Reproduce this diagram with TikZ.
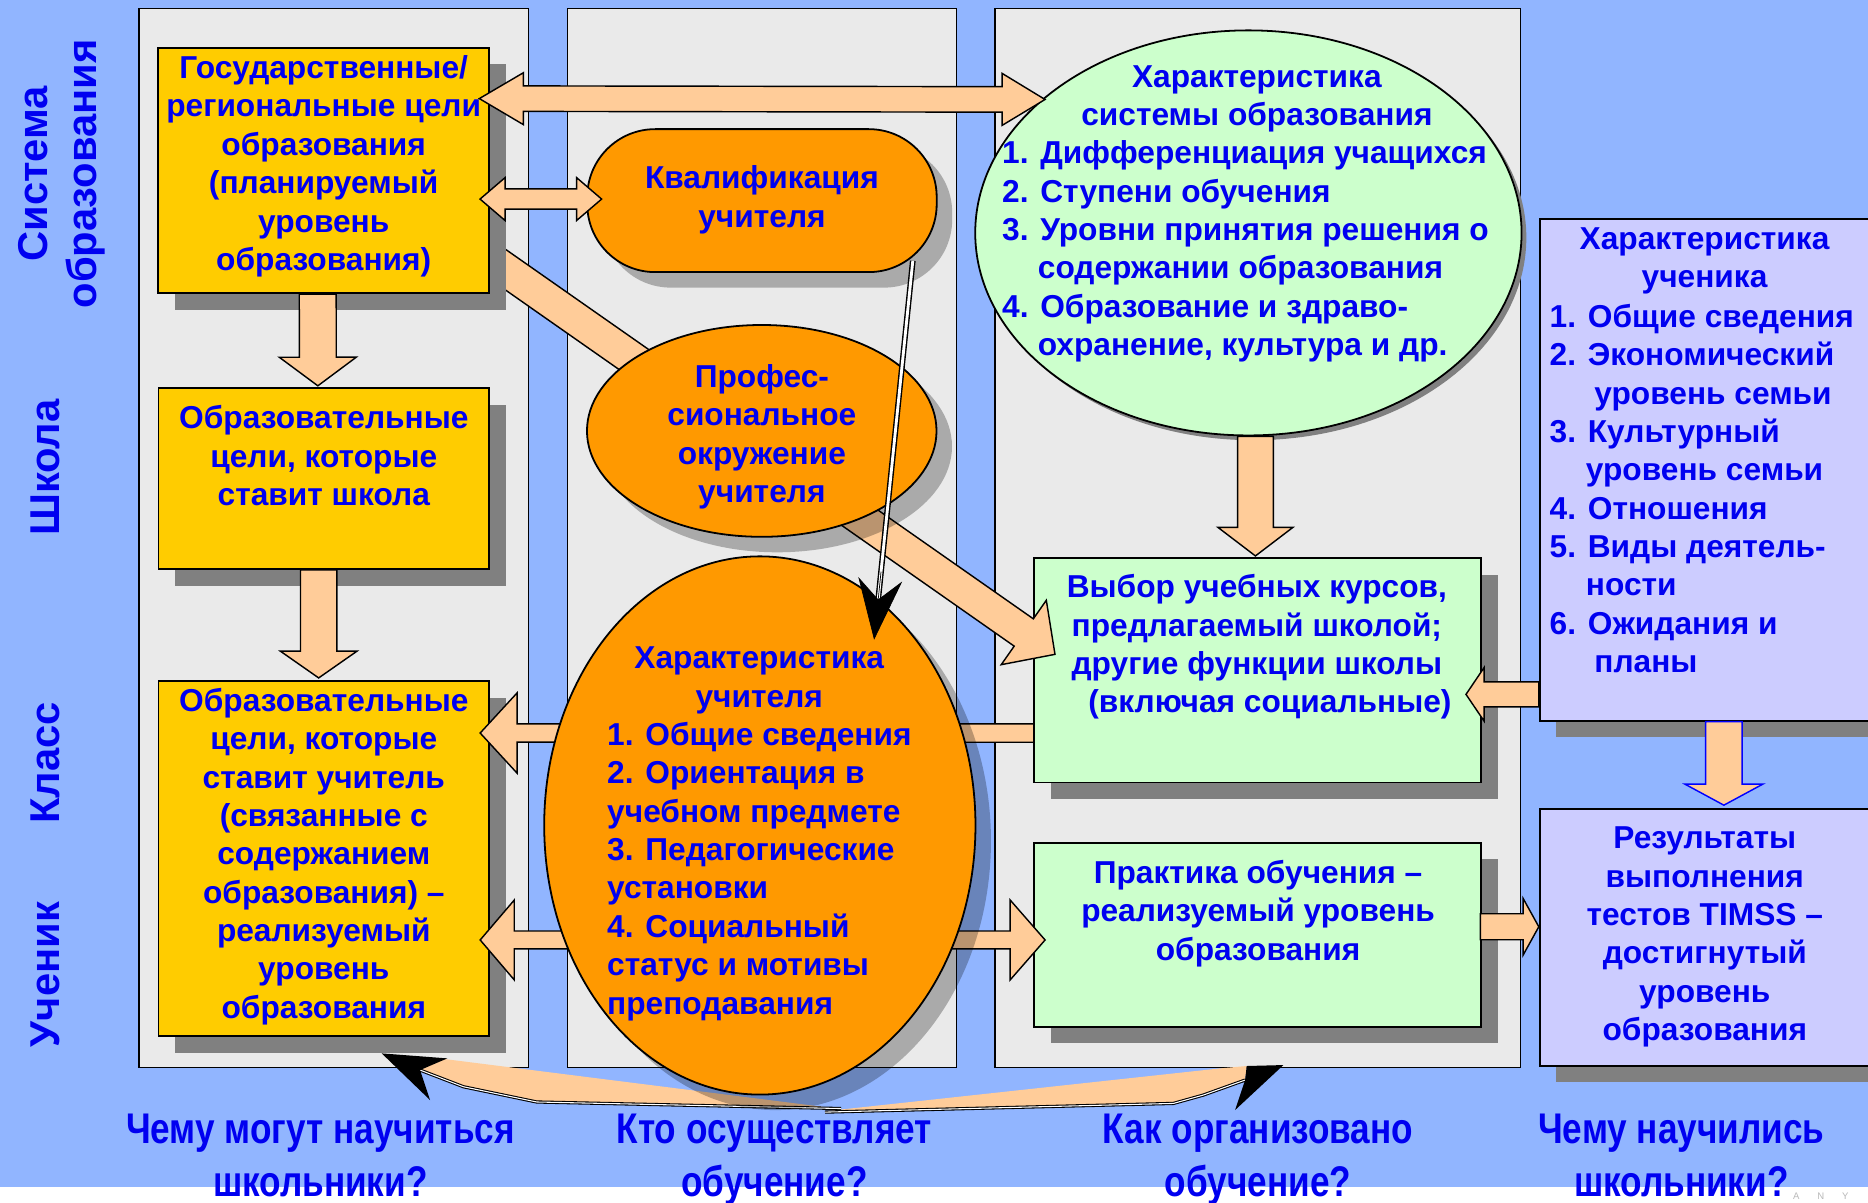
\documentclass[tikz,border=0pt]{standalone}
\usepackage{fontspec}
\setmainfont{Liberation Sans}
\newfontfamily\narrowfont[FakeStretch=0.82]{Liberation Sans}
\usetikzlibrary{calc,shapes.geometric,shadows,arrows.meta}
\pgfdeclarelayer{bgl}
\pgfdeclarelayer{curvel}
\pgfdeclarelayer{lowbox}
\pgfdeclarelayer{harr}
\pgfdeclarelayer{midbox}
\pgfdeclarelayer{bandl}
\pgfsetlayers{bgl,curvel,lowbox,harr,midbox,bandl,main}
\definecolor{bgblue}{RGB}{145,181,255}
\definecolor{panelgray}{RGB}{234,234,234}
\definecolor{tblue}{RGB}{0,0,240}
\definecolor{byellow}{RGB}{255,204,0}
\definecolor{borange}{RGB}{255,153,0}
\definecolor{bgreen}{RGB}{204,255,204}
\definecolor{blav}{RGB}{204,204,255}
\definecolor{peach}{RGB}{255,204,153}
\definecolor{sgray}{RGB}{128,128,128}
\newcommand\mytopst{\vrule height 30pt depth 0pt width 0pt}
\newcommand\mybotst{\vrule height 0pt depth 30pt width 0pt}
% block arrow: [style]{start}{end}{shaft half width}{head half width}{head length}
\newcommand\blockarrow[6][]{%
  \coordinate (ba-s) at (#2);
  \coordinate (ba-e) at (#3);
  \coordinate (ba-h) at ($(ba-e)!#6!(ba-s)$);
  \filldraw[barrow,#1] ($(ba-s)!#4!90:(ba-e)$) -- ($(ba-h)!#4!90:(ba-e)$)
    -- ($(ba-h)!#5!90:(ba-e)$) -- (ba-e) -- ($(ba-h)!#5!-90:(ba-e)$)
    -- ($(ba-h)!#4!-90:(ba-e)$) -- ($(ba-s)!#4!-90:(ba-e)$) -- cycle;
}
% double block arrow: [style]{start}{end}{shaft hw}{head hw}{head len at end}{head len at start}
\newcommand\dblockarrow[7][]{%
  \coordinate (ba-s) at (#2);
  \coordinate (ba-e) at (#3);
  \coordinate (ba-h) at ($(ba-e)!#6!(ba-s)$);
  \coordinate (ba-g) at ($(ba-s)!#7!(ba-e)$);
  \filldraw[barrow,#1] (ba-s) -- ($(ba-g)!#5!90:(ba-e)$) -- ($(ba-g)!#4!90:(ba-e)$)
    -- ($(ba-h)!#4!90:(ba-e)$) -- ($(ba-h)!#5!90:(ba-e)$) -- (ba-e)
    -- ($(ba-h)!#5!-90:(ba-e)$) -- ($(ba-h)!#4!-90:(ba-e)$)
    -- ($(ba-g)!#4!-90:(ba-e)$) -- ($(ba-g)!#5!-90:(ba-e)$) -- cycle;
}
\begin{document}
\begin{tikzpicture}[x=1pt,y=-1pt,
  panel/.style={fill=panelgray,draw=black,line width=1.3pt},
  rshadow/.style={general shadow={fill=sgray,shadow xshift=14pt,shadow yshift=-14pt}},
  oshadow/.style={general shadow={fill=black,fill opacity=0.27,shadow xshift=13pt,shadow yshift=-13pt}},
  ybox/.style={rectangle,draw=black,line width=1.5pt,fill=byellow,minimum width=277.6pt,inner sep=0pt,rshadow},
  gbox/.style={rectangle,draw=black,line width=1.5pt,fill=bgreen,minimum width=375.3pt,inner sep=0pt,rshadow},
  lbox/.style={rectangle,draw=black,line width=1.5pt,fill=blav,minimum width=277.6pt,inner sep=0pt,rshadow},
  obj/.style={draw=black,line width=1.5pt,fill=borange,inner sep=0pt,oshadow},
  barrow/.style={fill=peach,draw=black,line width=1.2pt,line join=miter},
  txt/.style={text=tblue,font=\bfseries\fontsize{26.6}{32.2}\selectfont,inner sep=0pt,align=center},
  ltxt/.style={txt,align=left,anchor=west},
  side/.style={text=tblue,font=\bfseries\fontsize{35}{40.8}\selectfont,inner sep=0pt,align=center,rotate=90},
  blab/.style={text=tblue,font=\narrowfont\bfseries\fontsize{36}{44.8}\selectfont,inner sep=0pt,align=center},
  curveedge/.style={draw=black,line width=0.9pt,double=white,double distance=0.9pt,line join=round}
]
\useasboundingbox (0,0) rectangle (1568,1009);
\clip (0,0) rectangle (1568,1009);

% ---------- background and panels
\begin{pgfonlayer}{bgl}
  \fill[bgblue] (0,0) rectangle (1568,996);
  \fill[white] (0,996) rectangle (1568,1009);
  \draw[panel] (116.5,7.3) rectangle (443.5,896);
  \draw[panel] (476.2,7.3) rectangle (802.8,896);
  \draw[panel] (835.2,7.3) rectangle (1276.3,896);
  \node[text=gray!55,font=\fontsize{8}{10}\selectfont,inner sep=0pt,anchor=west] (wmark) at (1505,1004) {\spaceskip=15pt A N Y};
\end{pgfonlayer}

% ---------- bottom curved double arrow
\begin{pgfonlayer}{curvel}
  \coordinate (cvL) at (320.4,884.2);
  \coordinate (cvR) at (1077.3,894);
  \fill[peach] (352.6,898.2) -- (372,888.8) -- (706,931) -- (450.5,925) -- (389,912.2) -- cycle;
  \fill[peach] (692.5,932.8) -- (1024,896.8) -- (1046.5,894.8) -- (1045.1,906.6) -- (1010,919.2) -- (985,926.2) -- cycle;
  \draw[curveedge] (352.6,898.2) -- (389,912.2) -- (450.5,925) -- (706,930.5);
  \draw[curveedge] (692.5,933.5) -- (985,926.2) -- (1010,919.2) -- (1045.1,906.6);
  \fill[black] (cvL) -- (375.5,888.4) -- (352.6,898.2) -- (361,923.4) -- cycle;
  \fill[black] (cvR) -- (1036.7,931.8) -- (1045.1,906.6) -- (1046.5,894.8) -- cycle;
\end{pgfonlayer}

% ---------- nodes
\begin{pgfonlayer}{lowbox}
  \node[ybox,minimum height=298pt] (boxC) at (271.8,720.5) {};
  \node[gbox,minimum height=154.6pt] (prakt) at (1055.65,784.6) {};
\end{pgfonlayer}
\begin{pgfonlayer}{midbox}
  \node[gbox,minimum height=188.5pt] (vybor) at (1055.65,562.55) {};
  \node[obj,ellipse,minimum width=362pt,minimum height=451.8pt] (tchar) at (637.8,692.9) {};
\end{pgfonlayer}
\node[ybox,minimum height=206.2pt] (boxA) at (271.7,143.1) {};
\node[ybox,minimum height=151.6pt] (boxB) at (271.8,401.8) {};
\node[obj,rectangle,rounded corners=57pt,minimum width=293.3pt,minimum height=120pt] (kval) at (639.6,168.4) {};
\node[obj,ellipse,minimum width=293.4pt,minimum height=177.8pt] (prof) at (639.4,361.7) {};
\node[ellipse,draw=black,line width=1.5pt,fill=bgreen,inner sep=0pt,minimum width=458.6pt,minimum height=340pt,
      general shadow={fill=sgray,shadow xshift=4pt,shadow yshift=-4pt}] (gchar) at (1047.9,195.5) {};
\node[lbox,minimum height=421pt] (uchen) at (1431.2,394.5) {};
\node[lbox,minimum height=215.7pt] (results) at (1431.2,786.65) {};

% ---------- arrows
\begin{pgfonlayer}{harr}
  \blockarrow{$(vybor.west)+(32,52.8)$}{$(boxC.east)+(-8.3,-105.2)$}{7.7pt}{33.7pt}{31pt}
  \dblockarrow{$(boxC.east)+(-8.3,68.5)$}{$(prakt.west)+(10,4.4)$}{7.5pt}{33.5pt}{29.3pt}{28.6pt}
\end{pgfonlayer}
\begin{pgfonlayer}{bandl}
  \blockarrow{$(boxA.center)+(108,52)$}{$(vybor.west)+(18.3,-13.3)$}{14pt}{33pt}{32pt}
\end{pgfonlayer}
\blockarrow{$(boxA.south)+(-5,0)$}{$(boxB.north)+(-5,-1.4)$}{15.5pt}{32.3pt}{24pt}
\blockarrow{$(boxB.south)+(-4.3,0)$}{$(boxC.north)+(-4.3,-1.7)$}{15.25pt}{32.2pt}{22.5pt}
\dblockarrow{$(boxA.north east)+(-8.9,43.5)$}{$(gchar.center)+(-170.7,-112)$}{10.7pt}{21.8pt}{36pt}{37pt}
\dblockarrow{$(boxA.east)+(-8.3,24)$}{$(kval.west)+(12.8,-1.3)$}{8.5pt}{18pt}{21pt}{21pt}
\blockarrow{$(gchar.south)+(5.9,0)$}{$(vybor.north)+(-1.85,-0.9)$}{15pt}{31.5pt}{24pt}
\blockarrow{$(uchen.west)+(0,188.3)$}{$(vybor.east)+(-13.5,20.3)$}{10.5pt}{22.5pt}{15.2pt}
\blockarrow[draw=blue]{$(uchen.south)+(15.8,0)$}{$(results.north)+(15.8,-2.2)$}{15.3pt}{32.6pt}{17.6pt}
\blockarrow{$(prakt.east)+(-1.5,-6.7)$}{$(results.west)+(0,-8.75)$}{10.9pt}{23.85pt}{13.2pt}

\coordinate (kvalout) at ($(kval.center)+(126.6,50.5)$);
\coordinate (tchin) at ($(tchar.center)+(95.9,-155.9)$);
\draw[line width=1.2pt,double=white,double distance=2.4pt,shorten >=34pt] (kvalout) -- (tchin);
\draw[line width=0.6pt,-{Stealth[length=51pt,width=37pt,inset=17pt]}] ($(kvalout)!0.82!(tchin)$) -- (tchin);

% ---------- texts
\node[txt] (tA) at (271.7,146.5) {\mytopst Государственные/\\региональные цели\\образования\\(планируемый\\уровень\\образования)\mybotst};
\node[txt] (tB) at (271.8,392) {\mytopst Образовательные\\цели, которые\\ставит школа\mybotst};
\node[txt] (tC) at (271.8,726) {\mytopst Образовательные\\цели, которые\\ставит учитель\\(связанные с\\содержанием\\образования) –\\реализуемый\\уровень\\образования\mybotst};
\node[txt] (tKval) at (639.6,174.7) {\mytopst Квалификация\\учителя\mybotst};
\node[txt] (tProf) at (639.5,373.5) {\mytopst Профес-\\сиональное\\окружение\\учителя\mybotst};
\node[txt] (tTchT) at (637.3,577.5) {\mytopst Характеристика\\учителя\mybotst};
\node[ltxt] (tTchL) at (509.5,738.5) {\mytopst 1. Общие сведения\\2. Ориентация в\\учебном предмете\\3. Педагогические\\установки\\4. Социальный\\статус и мотивы\\преподавания\mybotst};
\node[txt] (tGT) at (1055,89.2) {\mytopst Характеристика\\системы образования\mybotst};
\node[ltxt] (tGL) at (841,218) {\mytopst 1. Дифференциация учащихся\\2. Ступени обучения\\3. Уровни принятия решения о\\\hspace*{30pt}содержании образования\\4. Образование и здраво-\\\hspace*{30pt}охранение, культура и др.\mybotst};
\node[txt] (tVyb) at (1055,550) {\mytopst Выбор учебных курсов,\\предлагаемый школой;\\другие функции школы\\\hspace*{22pt}(включая социальные)\mybotst};
\node[txt] (tPrakt) at (1056,773.8) {\mytopst Практика обучения –\\реализуемый уровень\\образования\mybotst};
\node[txt] (tUchT) at (1430.8,225.5) {\mytopst Характеристика\\ученика\mybotst};
\node[ltxt] (tUchL) at (1300.6,419.7) {\mytopst 1. Общие сведения\\2. Экономический\\\hspace*{37.5pt}уровень семьи\\3. Культурный\\\hspace*{30.4pt}уровень семьи\\4. Отношения\\5. Виды деятель-\\\hspace*{30.4pt}ности\\6. Ожидания и\\\hspace*{37.5pt}планы\mybotst};
\node[txt] (tRes) at (1431,793) {\mytopst Результаты\\выполнения\\тестов TIMSS –\\достигнутый\\уровень\\образования\mybotst};

% ---------- side labels
\node[side] (lsys) at (60.3,146) {\mytopst Система\\образования\mybotst};
\node[side] (lschool) at (49.8,392.5) {\mytopst Школа\mybotst};
\node[side] (lclass) at (49.8,640.2) {\mytopst Класс\mybotst};
\node[side] (lpupil) at (49.8,818) {\mytopst Ученик\mybotst};

% ---------- bottom questions
\node[blab] (q1) at (268.9,982.1) {\mytopst Чему могут научиться\\школьники?\mybotst};
\node[blab] (q2) at (650,982.1) {\mytopst Кто осуществляет\\обучение?\mybotst};
\node[blab] (q3) at (1056,982.1) {\mytopst Как организовано\\обучение?\mybotst};
\node[blab] (q4) at (1411.3,982.1) {\mytopst Чему научились\\школьники?\mybotst};
\end{tikzpicture}
\end{document}
